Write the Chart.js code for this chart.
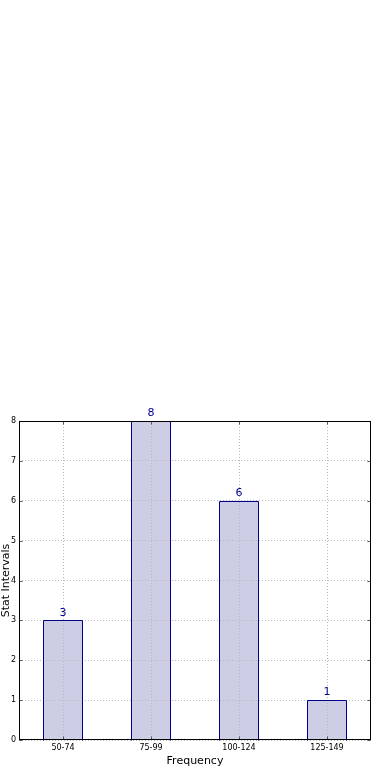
<!DOCTYPE html>
<html lang="en">
<head>
    <meta charset="UTF-8">
    <title>Stat Intervals</title>
    <script src="https://cdn.jsdelivr.net/npm/chart.js"></script>
    <style>
        html, body { margin: 0; padding: 0; background: #fff; }
        #wrap { width: 390px; height: 780px; }
    </style>
</head>
<body>
    <div id="wrap"><canvas id="statChart"></canvas></div>

    <script>
        const intervals = ["50-74", "75-99", "100-124", "125-149"];
        const counts = [3, 8, 6, 1];
        const yTicks = [0, 1, 2, 3, 4, 5, 6, 7, 8];

        const navy = '#00008b';
        const gridColor = '#b8b8b8';

        // grid over the bars, crisp bar edges, frame, inward ticks and value labels
        const overlay = {
            id: 'overlay',
            afterDatasetsDraw(chart) {
                const ctx = chart.ctx;
                const area = chart.chartArea;
                const xs = chart.scales.x, ys = chart.scales.y;
                xs.drawGrid(area);
                ys.drawGrid(area);

                ctx.save();
                ctx.lineWidth = 1;
                ctx.strokeStyle = navy;
                chart.getDatasetMeta(0).data.forEach(bar => {
                    const l = Math.round(bar.x - bar.width / 2) + 0.5;
                    const r = Math.round(bar.x + bar.width / 2) - 0.5;
                    const t = Math.round(bar.y) + 0.5;
                    const b = Math.round(bar.base) + 0.5;
                    ctx.beginPath();
                    ctx.moveTo(l, b); ctx.lineTo(l, t); ctx.lineTo(r, t); ctx.lineTo(r, b);
                    ctx.stroke();
                });

                const L = Math.round(area.left) + 0.5, R = Math.round(area.right) - 0.5;
                const T = Math.round(area.top) + 0.5, B = Math.round(area.bottom) - 0.5;

                ctx.strokeStyle = '#555';
                ctx.beginPath();
                yTicks.forEach(v => {
                    const y = Math.round(ys.getPixelForValue(v)) + 0.5;
                    ctx.moveTo(L, y); ctx.lineTo(L + 3, y);
                    ctx.moveTo(R, y); ctx.lineTo(R - 3, y);
                });
                intervals.forEach((c, i) => {
                    const x = Math.round(xs.getPixelForValue(i)) + 0.5;
                    ctx.moveTo(x, T); ctx.lineTo(x, T + 3);
                    ctx.moveTo(x, B); ctx.lineTo(x, B - 3);
                });
                ctx.stroke();

                ctx.strokeStyle = '#000';
                ctx.strokeRect(L, T, R - L, B - T);

                ctx.fillStyle = navy;
                ctx.font = '11px "DejaVu Sans"';
                ctx.textAlign = 'center';
                ctx.textBaseline = 'bottom';
                chart.getDatasetMeta(0).data.forEach((bar, i) => {
                    ctx.fillText(String(counts[i]), bar.x, bar.y - 2);
                });
                ctx.restore();
            }
        };

        new Chart(document.getElementById('statChart'), {
            type: 'bar',
            data: {
                labels: intervals,
                datasets: [{
                    data: counts,
                    backgroundColor: '#cdcde6',
                    borderWidth: 0,
                    barPercentage: 0.45,
                    categoryPercentage: 1.0
                }]
            },
            options: {
                responsive: true,
                maintainAspectRatio: false,
                animation: false,
                layout: { padding: { top: 421, right: 19, left: 0, bottom: 12 } },
                plugins: {
                    legend: { display: false },
                    tooltip: { enabled: false }
                },
                scales: {
                    x: {
                        offset: true,
                        grid: { offset: false, color: gridColor, lineWidth: 1, tickLength: 0 },
                        border: { display: false, dash: [1, 2] },
                        ticks: { color: '#000', font: { family: 'DejaVu Sans', size: 8 }, padding: 3, maxRotation: 0 },
                        title: { display: true, text: 'Frequency', color: '#000', font: { family: 'DejaVu Sans', size: 11 }, padding: { top: 0, bottom: 0 } },
                        afterFit(scale) { scale.height = 28; }
                    },
                    y: {
                        min: 0,
                        max: 8,
                        afterBuildTicks(scale) { scale.ticks = yTicks.map(v => ({ value: v })); },
                        grid: { color: gridColor, lineWidth: 1, tickLength: 0 },
                        border: { display: false, dash: [1, 2] },
                        ticks: { color: '#000', font: { family: 'DejaVu Sans', size: 8 }, padding: 3 },
                        title: { display: true, text: 'Stat Intervals', color: '#000', font: { family: 'DejaVu Sans', size: 11 }, padding: { top: 0, bottom: 0 } },
                        afterFit(scale) { scale.width = 19; }
                    }
                }
            },
            plugins: [overlay]
        });
    </script>
</body>
</html>
